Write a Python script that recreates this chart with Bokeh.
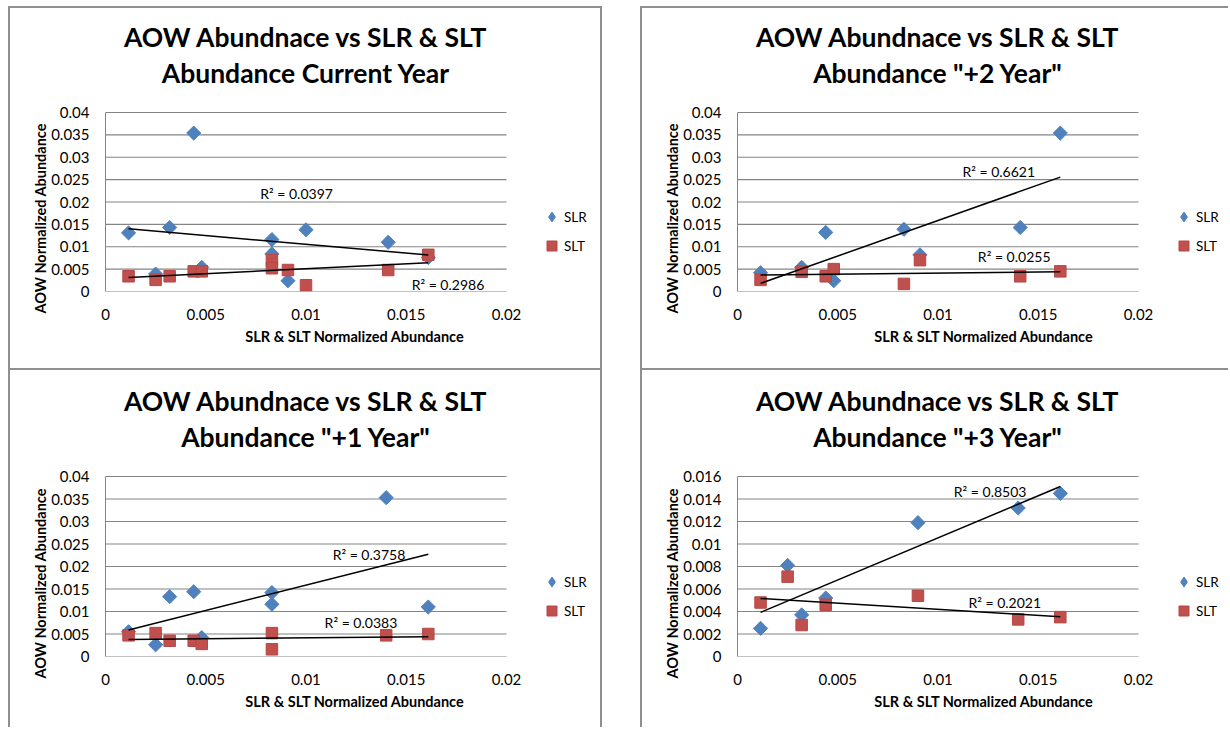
import numpy as np
from bokeh.plotting import figure
from bokeh.models import (Range1d, FixedTicker, NumeralTickFormatter, Label, Spacer,
                          Title, Legend, LegendItem)
from bokeh.layouts import row, column
from bokeh.embed import file_html
from bokeh.resources import INLINE

# ---------------- data ----------------
TITLE_LINE1 = "AOW Abundnace vs SLR & SLT"
X_LABEL = "SLR & SLT Normalized Abundance"
Y_LABEL = "AOW Normalized Abundance"
SERIES = ["SLR", "SLT"]

x_ticks = [0, 0.005, 0.01, 0.015, 0.02]
y_ticks_main = [0, 0.005, 0.01, 0.015, 0.02, 0.025, 0.03, 0.035, 0.04]
y_ticks_p3 = [0, 0.002, 0.004, 0.006, 0.008, 0.01, 0.012, 0.014, 0.016]

# Current year
cur_title = "Abundance Current Year"
cur_x = [0.00115, 0.0025, 0.0032, 0.0044, 0.0048, 0.0083, 0.0083, 0.0091, 0.0100, 0.0141, 0.0161]
cur_slr = [0.0131, 0.0039, 0.0143, 0.0354, 0.0054, 0.0116, 0.0084, 0.0024, 0.0138, 0.0110, 0.0076]
cur_slt = [0.0034, 0.0026, 0.0034, 0.0045, 0.0045, 0.0070, 0.0052, 0.0048, 0.0014, 0.0048, 0.0082]
cur_r2 = ["0.0397", "0.2986"]

# +1 year
p1_title = 'Abundance "+1 Year"'
p1_x = [0.00115, 0.0025, 0.0032, 0.0044, 0.0048, 0.0083, 0.0083, 0.0140, 0.0161]
p1_slr = [0.0055, 0.0026, 0.0133, 0.0144, 0.0042, 0.0142, 0.0116, 0.0353, 0.0110]
p1_slt = [0.0047, 0.0052, 0.0035, 0.0035, 0.0028, 0.0052, 0.0016, 0.0047, 0.0050]
p1_r2 = ["0.3758", "0.0383"]

# +2 year
p2_title = 'Abundance "+2 Year"'
p2_x = [0.00115, 0.0032, 0.0044, 0.0048, 0.0083, 0.0091, 0.0141, 0.0161]
p2_slr = [0.0042, 0.0054, 0.0132, 0.0024, 0.0139, 0.0082, 0.0143, 0.0354]
p2_slt = [0.0026, 0.0044, 0.0034, 0.0050, 0.0017, 0.0070, 0.0034, 0.0045]
p2_r2 = ["0.6621", "0.0255"]

# +3 year
p3_title = 'Abundance "+3 Year"'
p3_x = [0.00115, 0.0025, 0.0032, 0.0044, 0.0090, 0.0140, 0.0161]
p3_slr = [0.0025, 0.0081, 0.0037, 0.0052, 0.0119, 0.0132, 0.0145]
p3_slt = [0.0048, 0.0071, 0.0028, 0.0046, 0.0054, 0.0033, 0.0035]
p3_r2 = ["0.8503", "0.2021"]

# ---------------- styling / layout constants ----------------
FONT = "Lato"
BLUE = "#4F81BD"
RED = "#C0504D"
GRID = "#848484"
FRAME_BORDER = "2px solid #8f8f8f"
PLOT_W = 401          # pixel width of the gridded plot area

# R^2 label anchor positions (data units) per panel: [SLR label, SLT label]
r2_pos_cur = [(0.00953, 0.0218), (0.01708, 0.0015)]
r2_pos_p1 = [(0.01314, 0.0226), (0.01274, 0.0075)]
r2_pos_p2 = [(0.01303, 0.0268), (0.0138, 0.0078)]
r2_pos_p3 = [(0.0126, 0.0147), (0.01333, 0.0048)]


def make_panel(xs, slr, slt, title2, yticks, r2_texts, r2_pos,
               width, height, left, bottom, plot_h, css):
    fw = width - left          # frame spans to the right / top canvas edges
    fh = height - bottom
    x_end = x_ticks[-1] * fw / PLOT_W
    y_end = yticks[-1] * fh / plot_h
    p = figure(width=width, height=height, output_backend="svg",
               toolbar_location=None, tools="",
               x_range=Range1d(x_ticks[0], x_end),
               y_range=Range1d(yticks[0], y_end),
               min_border_left=left, min_border_right=0,
               min_border_top=0, min_border_bottom=bottom,
               styles=css)
    p.outline_line_color = None
    p.background_fill_color = "white"
    p.border_fill_color = "white"
    p.xgrid.grid_line_color = None
    p.ygrid.grid_line_color = None

    # axes
    p.xaxis.ticker = FixedTicker(ticks=x_ticks)
    p.yaxis.ticker = FixedTicker(ticks=yticks)
    p.xaxis.bounds = (x_ticks[0], x_ticks[-1])
    p.yaxis.bounds = (yticks[0], yticks[-1])
    p.xaxis.formatter = NumeralTickFormatter(format="0.[000]")
    p.yaxis.formatter = NumeralTickFormatter(format="0.[000]")
    for ax in (p.xaxis, p.yaxis):
        ax.major_tick_line_color = None
        ax.minor_tick_line_color = None
        ax.major_label_text_font = FONT
        ax.major_label_text_font_size = "15px"
        ax.major_label_text_color = "black"
    p.xaxis.axis_line_color = None
    p.yaxis.axis_line_color = GRID
    p.xaxis.major_label_standoff = 11
    p.yaxis.major_label_standoff = 10
    p.xaxis.axis_label = X_LABEL
    p.xaxis.axis_label_text_font = FONT
    p.xaxis.axis_label_text_font_size = "14.5px"
    p.xaxis.axis_label_text_font_style = "bold"
    p.xaxis.axis_label_text_color = "black"
    p.xaxis.axis_label_standoff = 5

    # y axis title, starting a little below the plot area like the original
    p.add_layout(Title(text=Y_LABEL, align="left", offset=-22, standoff=0,
                       text_font=FONT, text_font_size="14.5px",
                       text_font_style="bold", text_color="black"), "left")

    # horizontal gridlines over the plotting area only
    p.segment(x0=x_ticks[0], x1=x_ticks[-1], y0=yticks, y1=yticks,
              line_color=GRID, line_width=1.2)

    # series
    p.scatter(xs, slr, marker="square", angle=np.pi / 4, size=10,
              fill_color=BLUE, line_color=BLUE)
    r_slt = p.scatter(xs, slt, marker="square", size=11.5,
                      fill_color=RED, line_color="#B84744")
    # same SLR data as a hidden diamond renderer, used only for the legend
    # (legend markers are never rotated)
    r_leg = p.scatter(xs, slr, marker="diamond", size=10,
                      fill_color=BLUE, line_color=BLUE, visible=False)

    # linear trend lines computed from the data
    xa = np.array(xs)
    for ys in (slr, slt):
        k, b = np.polyfit(xa, np.array(ys), 1)
        xl = np.array([xa.min(), xa.max()])
        p.line(xl, k * xl + b, line_color="black", line_width=1.5)

    for txt, (lx, ly) in zip(r2_texts, r2_pos):
        p.add_layout(Label(x=lx, y=ly, text="R\u00b2 = " + txt,
                           text_font=FONT, text_font_size="14px",
                           text_align="center", text_baseline="middle",
                           text_color="black"))

    # two-line chart title
    for txt, dy in ((TITLE_LINE1, 76), (title2, 39.5)):
        p.add_layout(Label(x=PLOT_W / 2, y=plot_h + dy, x_units="screen",
                           y_units="screen", text=txt, text_font=FONT,
                           text_font_size="26.5px", text_font_style="bold",
                           text_align="center", text_baseline="middle",
                           text_color="black"))

    legend = Legend(items=[LegendItem(label=SERIES[0], renderers=[r_leg]),
                           LegendItem(label=SERIES[1], renderers=[r_slt])],
                    location=(434, 33), orientation="vertical",
                    glyph_width=25, glyph_height=25, label_height=25,
                    label_standoff=0, spacing=4, padding=0, margin=0,
                    border_line_color=None, background_fill_alpha=0,
                    inactive_fill_alpha=0,
                    label_text_font=FONT, label_text_font_size="13.5px",
                    label_text_color="black")
    p.add_layout(legend)
    return p


css_left = {"border-top": FRAME_BORDER, "border-left": FRAME_BORDER,
            "border-right": FRAME_BORDER}
css_right = {"border-top": FRAME_BORDER, "border-left": FRAME_BORDER}

pa = make_panel(cur_x, cur_slr, cur_slt, cur_title, y_ticks_main, cur_r2, r2_pos_cur,
                594, 362, 95, 79, 179, css_left)
pb = make_panel(p2_x, p2_slr, p2_slt, p2_title, y_ticks_main, p2_r2, r2_pos_p2,
                588, 362, 95, 79, 179, css_right)
pc = make_panel(p1_x, p1_slr, p1_slt, p1_title, y_ticks_main, p1_r2, r2_pos_p1,
                594, 359, 95, 73, 180, css_left)
pd = make_panel(p3_x, p3_slr, p3_slt, p3_title, y_ticks_p3, p3_r2, r2_pos_p3,
                588, 359, 95, 73, 180, css_right)

layout = column(Spacer(width=10, height=6),
                row(Spacer(width=8, height=10), pa, Spacer(width=38, height=10), pb),
                row(Spacer(width=8, height=10), pc, Spacer(width=38, height=10), pd))

open("out.html", "w").write(file_html(layout, INLINE))
